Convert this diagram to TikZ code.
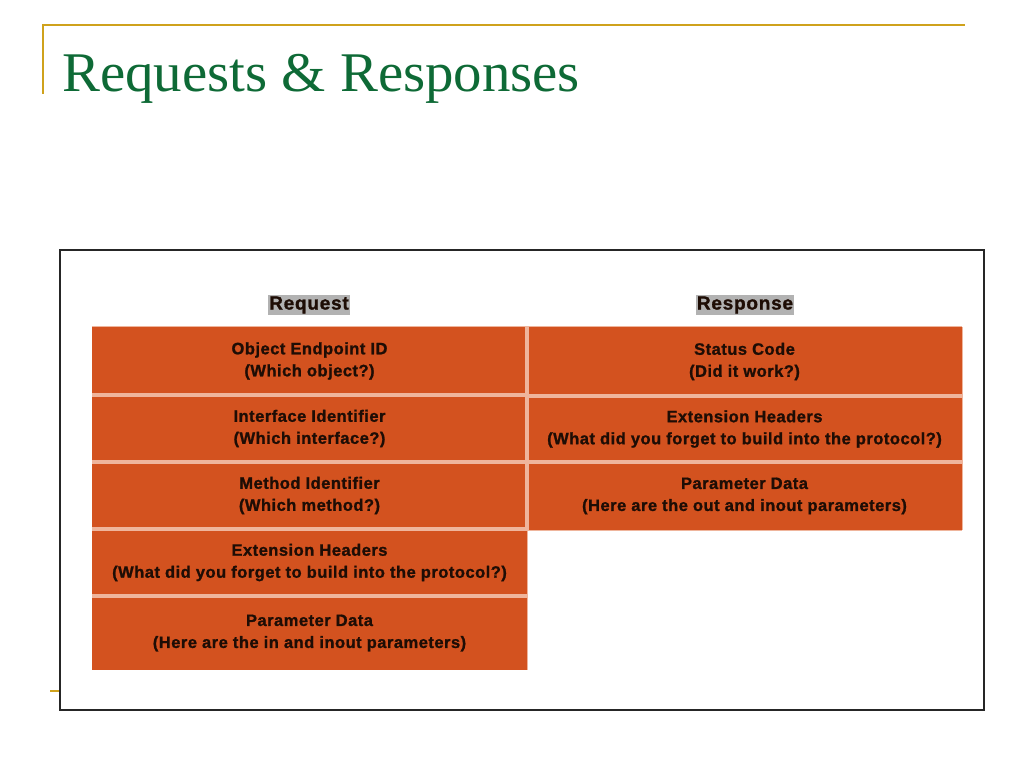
\documentclass[tikz,border=0pt]{standalone}
\usepackage{fontspec}
\setmainfont{Liberation Serif}
\newfontfamily\titlefont{Liberation Serif}[FakeStretch=1.015]
\newfontfamily\tabfont{Liberation Sans}[LetterSpace=3,BoldFeatures={FakeBold=1.2}]
\newfontfamily\hdrfont{Liberation Sans}[LetterSpace=4,BoldFeatures={FakeBold=1.2}]
\definecolor{gold}{HTML}{CFA21C}
\definecolor{titlegreen}{HTML}{0E6A36}
\definecolor{cellorange}{HTML}{D3521F}
\definecolor{sepcol}{HTML}{EFB59C}
\definecolor{ink}{HTML}{1E0D05}
\tikzset{
  cell/.style={fill=cellorange, draw=none, minimum width=435, inner sep=0pt, align=center,
    text=ink, font=\tabfont\bfseries\fontsize{16.5}{22}\selectfont},
  sepline/.style={draw=sepcol, line width=3.5pt},
  hdr/.style={fill=black!30, inner sep=1.2pt, text=ink, font=\hdrfont\bfseries\fontsize{19}{22}\selectfont},
  goldline/.style={draw=gold, line width=2pt}
}
\begin{document}
\begin{tikzpicture}[x=1pt,y=-1pt]
\useasboundingbox (0,0) rectangle (1024,768);
% slide decoration
\coordinate (g1) at (42,25);
\coordinate (g2) at (965,25);
\coordinate (g3) at (43,94);
\draw[goldline] (g1) -- (g2);
\draw[goldline] (g1) ++(1,0) coordinate (g1b) -- (g3);
\coordinate (g4) at (50,691);
\coordinate (g5) at (61,691);
\draw[goldline] (g4) -- (g5);
\node[anchor=base west, inner sep=0pt, text=titlegreen, font=\titlefont\fontsize{56}{60}\selectfont] (title) at (62,91) {Requests \& Responses};
% image frame
\node[draw=black!85, line width=1.5pt, fill=white, minimum width=924, minimum height=460, inner sep=0pt] (frame) at (522,480) {};
% headers
\node[hdr] (hreq) at (309,305) {Request};
\node[hdr] (hresp) at (745,305) {Response};
% left column
\node[cell, minimum height=68] (r1) at (309.5,361) {Object Endpoint ID\\(Which object?)};
\node[cell, minimum height=67] (r2) at (309.5,428.5) {Interface Identifier\\(Which interface?)};
\node[cell, minimum height=67] (r3) at (309.5,495.5) {Method Identifier\\(Which method?)};
\node[cell, minimum height=67] (r4) at (309.5,562.5) {Extension Headers\\(What did you forget to build into the protocol?)};
\node[cell, minimum height=74] (r5) at (309.5,633) {Parameter Data\\(Here are the in and inout parameters)};
% right column
\node[cell, minimum height=69] (q1) at (744.5,361.5) {Status Code\\(Did it work?)};
\node[cell, minimum height=66] (q2) at (744.5,429) {Extension Headers\\(What did you forget to build into the protocol?)};
\node[cell, minimum height=68] (q3) at (744.5,496) {Parameter Data\\(Here are the out and inout parameters)};
% separators
\draw[sepcol, line width=1.2pt] (r1.north west) -- (q1.north east);
\draw[sepline] (r1.south west) -- (r1.south east);
\draw[sepline] (r2.south west) -- (r2.south east);
\draw[sepline] (r3.south west) -- (r3.south east);
\draw[sepline] (r4.south west) -- (r4.south east);
\draw[sepline] (q1.south west) -- (q1.south east);
\draw[sepline] (q2.south west) -- (q2.south east);
\draw[sepline] (q1.north west) -- (q3.south west);
\draw[sepcol, line width=1.2pt] (r4.north east) -- (r5.south east);
\draw[sepcol, line width=1.2pt] (q1.north east) -- (q3.south east);
\draw[sepcol, line width=1.2pt] (q3.south west) -- (q3.south east);
\end{tikzpicture}
\end{document}
